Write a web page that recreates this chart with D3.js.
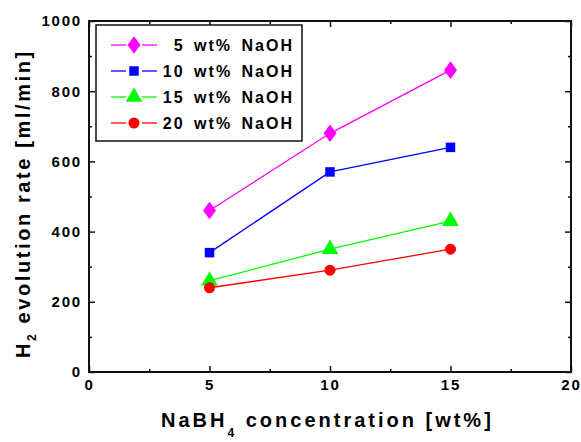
<!DOCTYPE html>
<html>
<head>
<meta charset="utf-8">
<script src="https://cdn.jsdelivr.net/npm/d3@7"></script>
<style>
  body { margin: 0; background: #fff; }
  svg text { font-family: "Liberation Sans", Arial, sans-serif; font-weight: bold; fill: #000; }
</style>
</head>
<body>
<svg id="chart" width="581" height="442"></svg>
<script>
// data
var naBH4 = [5, 10, 15];
var seriesNames = ["5 wt% NaOH", "10 wt% NaOH", "15 wt% NaOH", "20 wt% NaOH"];
var naoh5 = [460, 680, 860];
var naoh10 = [340, 570, 640];
var naoh15 = [260, 350, 430];
var naoh20 = [240, 290, 350];
var xTicks = [0, 5, 10, 15, 20];
var yTicks = [0, 200, 400, 600, 800, 1000];
var xMinor = [2.5, 7.5, 12.5, 17.5];
var yMinor = [100, 300, 500, 700, 900];

var colors = ["#ff00ff", "#0000ff", "#00ff00", "#ff0000"];
var shapes = [d3.symbolDiamond, d3.symbolSquare, d3.symbolTriangle, d3.symbolCircle];
var sizes = [110, 90, 120, 95];

var pLeft = 89, pRight = 571, pTop = 21, pBottom = 372;

var svg = d3.select("#chart");

var x = d3.scaleLinear().domain([0, 20]).range([pLeft, pRight]);
var y = d3.scaleLinear().domain([0, 1000]).range([pBottom, pTop]);

function styleAxis(g) {
    g.select(".domain").remove();
    g.selectAll(".tick line").attr("stroke", "#111").attr("stroke-width", 1.5);
    g.selectAll(".tick text")
        .style("font-size", "15px")
        .style("letter-spacing", "1.8px");
}

// major ticks, all four sides, pointing inward
svg.append("g")
    .attr("transform", "translate(0," + pBottom + ")")
    .call(d3.axisBottom(x).tickValues(xTicks).tickSize(-6).tickPadding(7).tickFormat(d3.format("d")))
    .call(styleAxis);

svg.append("g")
    .attr("transform", "translate(" + pLeft + ",0)")
    .call(d3.axisLeft(y).tickValues(yTicks).tickSize(-6).tickPadding(7).tickFormat(d3.format("d")))
    .call(styleAxis);

svg.append("g")
    .attr("transform", "translate(0," + pTop + ")")
    .call(d3.axisTop(x).tickValues(xTicks).tickSize(-6).tickFormat(""))
    .call(styleAxis);

svg.append("g")
    .attr("transform", "translate(" + pRight + ",0)")
    .call(d3.axisRight(y).tickValues(yTicks).tickSize(-6).tickFormat(""))
    .call(styleAxis);

// minor ticks
svg.append("g").attr("transform", "translate(0," + pBottom + ")")
    .call(d3.axisBottom(x).tickValues(xMinor).tickSize(-3).tickFormat("")).call(styleAxis);
svg.append("g").attr("transform", "translate(0," + pTop + ")")
    .call(d3.axisTop(x).tickValues(xMinor).tickSize(-3).tickFormat("")).call(styleAxis);
svg.append("g").attr("transform", "translate(" + pLeft + ",0)")
    .call(d3.axisLeft(y).tickValues(yMinor).tickSize(-3).tickFormat("")).call(styleAxis);
svg.append("g").attr("transform", "translate(" + pRight + ",0)")
    .call(d3.axisRight(y).tickValues(yMinor).tickSize(-3).tickFormat("")).call(styleAxis);

// frame
svg.append("rect")
    .attr("x", pLeft).attr("y", pTop)
    .attr("width", pRight - pLeft).attr("height", pBottom - pTop)
    .attr("fill", "none").attr("stroke", "#111").attr("stroke-width", 2);

// series
var series = [naoh5, naoh10, naoh15, naoh20].map(function (vals, i) {
    return {name: seriesNames[i], color: colors[i], shape: shapes[i], size: sizes[i],
        values: vals.map(function (v, j) { return {x: naBH4[j], y: v}; })};
});

var line = d3.line().x(function (d) { return x(d.x); }).y(function (d) { return y(d.y); });

series.forEach(function (s) {
    svg.append("path")
        .attr("d", line(s.values))
        .attr("fill", "none")
        .attr("stroke", s.color)
        .attr("stroke-width", 1.3);

    svg.selectAll(null)
        .data(s.values)
        .enter()
        .append("path")
        .attr("d", d3.symbol().type(s.shape).size(s.size))
        .attr("transform", function (d) {
            var t = "translate(" + x(d.x) + "," + y(d.y) + ")";
            return s.shape === d3.symbolDiamond ? t + " scale(1.15,0.9)" : t;
        })
        .attr("fill", s.color);
});

// legend
var legend = svg.append("g");
legend.append("rect")
    .attr("x", 96).attr("y", 25)
    .attr("width", 206).attr("height", 116)
    .attr("fill", "#fff").attr("stroke", "#111").attr("stroke-width", 1.5);

var rows = legend.selectAll(".row")
    .data(series)
    .enter()
    .append("g")
    .attr("transform", function (d, i) { return "translate(0," + (45 + i * 26) + ")"; });

rows.append("line").attr("x1", 111).attr("x2", 126).attr("stroke", function (d) { return d.color; }).attr("stroke-width", 1.3);
rows.append("line").attr("x1", 142).attr("x2", 157).attr("stroke", function (d) { return d.color; }).attr("stroke-width", 1.3);
rows.append("path")
    .attr("d", function (d) { return d3.symbol().type(d.shape).size(d.size)(); })
    .attr("transform", function (d) {
        return d.shape === d3.symbolDiamond ? "translate(134,0) scale(1.15,0.9)" : "translate(134,0)";
    })
    .attr("fill", function (d) { return d.color; });

rows.append("text")
    .attr("x", 294).attr("dy", "0.36em")
    .attr("text-anchor", "end")
    .style("font-size", "16px")
    .style("letter-spacing", "2px")
    .style("word-spacing", "3px")
    .text(function (d) { return d.name; });

// axis titles
var xt = svg.append("text")
    .attr("x", 161).attr("y", 427)
    .style("font-size", "20px")
    .style("letter-spacing", "3px");
xt.append("tspan").text("NaBH");
xt.append("tspan").attr("dy", 10).style("font-size", "12px").text("4");
xt.append("tspan").attr("dy", -10).text(" concentration [wt%]");

var yt = svg.append("text")
    .attr("transform", "translate(30,358) rotate(-90)")
    .style("font-size", "20px")
    .style("letter-spacing", "2.6px");
yt.append("tspan").text("H");
yt.append("tspan").attr("dy", 6).style("font-size", "12px").text("2");
yt.append("tspan").attr("dy", -6).text(" evolution rate [ml/min]");
</script>
</body>
</html>
